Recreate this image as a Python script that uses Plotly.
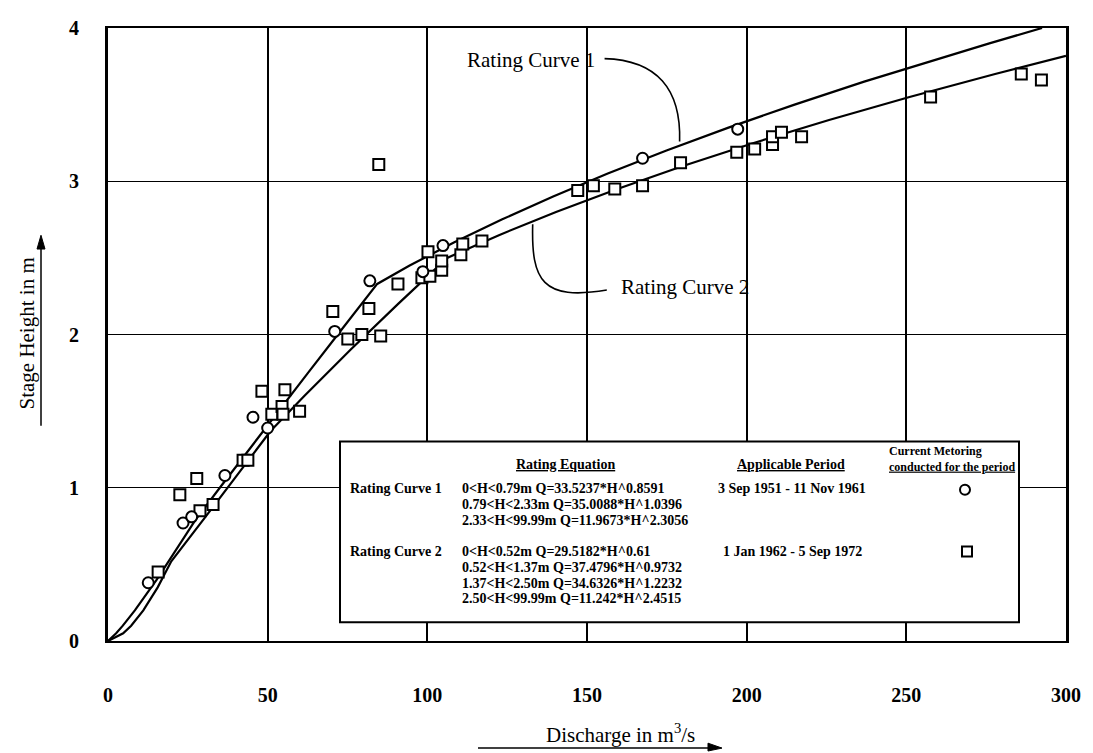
import plotly.graph_objects as go

# ---------------- data ----------------
# Rating curve 1 (3 Sep 1951 - 11 Nov 1961): discharge Q (m3/s) vs stage H (m)
curve1_Q = [0, 2.56, 4.64, 8.41, 15.26, 21.62, 27.4, 35.01, 44.15, 53.36, 62.63, 71.96,
            84.3, 94.46, 108.3, 123.3, 139.4, 156.5, 174.9, 194.3, 215.0, 236.8, 259.9, 276.0, 292.5]
curve1_H = [0, 0.05, 0.1, 0.2, 0.4, 0.6, 0.79, 1.0, 1.25, 1.5, 1.75, 2.0,
            2.33, 2.45, 2.6, 2.75, 2.9, 3.05, 3.2, 3.35, 3.5, 3.65, 3.8, 3.9, 4.0]

# Rating curve 2 (1 Jan 1962 - 5 Sep 1972)
curve2_Q = [0, 4.75, 7.25, 11.06, 15.56, 19.82, 30.16, 41.12, 50.91, 61.54, 75.94, 90.86,
            106.2, 122.6, 140.3, 159.5, 180.05, 202.2, 225.8, 251.0, 277.8, 300.0]
curve2_H = [0, 0.05, 0.1, 0.2, 0.35, 0.52, 0.8, 1.1, 1.37, 1.6, 1.9, 2.2,
            2.5, 2.65, 2.8, 2.95, 3.1, 3.25, 3.4, 3.55, 3.7, 3.818]

# Current metering, period 1 (circles)
meter1_Q = [12.6, 23.5, 26.2, 36.6, 45.4, 50.0, 71.0, 82.0, 98.6, 104.9, 167.4, 197.2]
meter1_H = [0.38, 0.77, 0.81, 1.08, 1.46, 1.39, 2.02, 2.35, 2.41, 2.58, 3.15, 3.34]

# Current metering, period 2 (squares)
meter2_Q = [15.7, 22.5, 27.8, 28.8, 32.9, 42.3, 43.8, 48.2, 51.3, 54.5, 54.8, 55.4, 60.0,
            70.4, 75.1, 79.5, 81.7, 84.8, 85.4, 90.8, 98.3, 100.2, 100.8, 104.5, 104.5,
            110.5, 111.1, 117.1, 147.1, 152.0, 158.7, 167.4, 179.3, 196.9, 202.5, 208.1,
            208.1, 210.9, 217.2, 257.6, 286.0, 292.3]
meter2_H = [0.45, 0.955, 1.06, 0.85, 0.89, 1.18, 1.18, 1.63, 1.48, 1.53, 1.48, 1.64, 1.5,
            2.15, 1.97, 2.0, 2.17, 3.11, 1.99, 2.33, 2.37, 2.54, 2.38, 2.42, 2.48,
            2.52, 2.59, 2.61, 2.94, 2.97, 2.95, 2.97, 3.12, 3.19, 3.21, 3.24,
            3.29, 3.32, 3.29, 3.55, 3.70, 3.66]

x_ticks = [0, 50, 100, 150, 200, 250, 300]
y_ticks = [0, 1, 2, 3, 4]

legend_rows_1 = ["0&lt;H&lt;0.79m Q=33.5237*H^0.8591",
                 "0.79&lt;H&lt;2.33m Q=35.0088*H^1.0396",
                 "2.33&lt;H&lt;99.99m Q=11.9673*H^2.3056"]
legend_rows_2 = ["0&lt;H&lt;0.52m Q=29.5182*H^0.61",
                 "0.52&lt;H&lt;1.37m Q=37.4796*H^0.9732",
                 "1.37&lt;H&lt;2.50m Q=34.6326*H^1.2232",
                 "2.50&lt;H&lt;99.99m Q=11.242*H^2.4515"]
period_1 = "3 Sep 1951 - 11 Nov 1961"
period_2 = "1 Jan 1962 - 5 Sep 1972"

# ---------------- layout helpers ----------------
OFF = 8                                   # page body margin of the html page
W, H = 1093 - OFF, 753 - OFF
L, R, T, B = 108, 1066, 17, 641          # plot area in screenshot pixels
FONT = "Liberation Serif"


def px_x(px):
    return (px - L) / (R - L)


def px_y(py):
    return (B - py) / (B - T)


def note(px, py, text, font, **kw):
    d = dict(x=px_x(px), y=px_y(py), xref="paper", yref="paper", text=text,
             showarrow=False, font=font, xanchor="center", yanchor="middle")
    d.update(kw)
    return d


def paper_path(points):
    return "M " + " L ".join(f"{px_x(a):.5f},{px_y(b):.5f}" for a, b in points) + " Z"


fig = go.Figure()

fig.add_trace(go.Scatter(x=curve1_Q, y=curve1_H, mode="lines",
                         line=dict(color="black", width=2.2), hoverinfo="skip"))
fig.add_trace(go.Scatter(x=curve2_Q, y=curve2_H, mode="lines",
                         line=dict(color="black", width=2.2), hoverinfo="skip"))
fig.add_trace(go.Scatter(x=meter2_Q, y=meter2_H, mode="markers",
                         marker=dict(symbol="square", size=11, color="white",
                                     line=dict(color="black", width=2))))
fig.add_trace(go.Scatter(x=meter1_Q, y=meter1_H, mode="markers",
                         marker=dict(symbol="circle", size=11, color="white",
                                     line=dict(color="black", width=2))))

shapes = []
annotations = []

# legend table box (white, hides grid)
shapes.append(dict(type="rect", xref="paper", yref="paper",
                   x0=px_x(340), x1=px_x(1019), y0=px_y(622), y1=px_y(438),
                   fillcolor="white", line=dict(color="black", width=2), layer="above"))

# leader lines of the curve labels
shapes.append(dict(type="path", xref="x", yref="y",
                   path="M 155.5,3.80 C 172,3.79 179.5,3.6 179,3.26",
                   line=dict(color="black", width=1.6)))
shapes.append(dict(type="path", xref="x", yref="y",
                   path="M 156.2,2.29 C 136,2.22 132.5,2.35 133,2.72",
                   line=dict(color="black", width=1.6)))

big = dict(family=FONT, size=21, color="black")
annotations.append(note(531, 50, "Rating Curve 1", big))
annotations.append(note(685, 281, "Rating Curve 2", big))

# legend table texts
lf = dict(family=FONT, size=14, color="black")
annotations.append(note(565, 461, "<b><u>Rating Equation</u></b>", lf))
annotations.append(note(791, 461, "<b><u>Applicable Period</u></b>", lf))
annotations.append(note(952, 456, "<b>Current Metoring<br><u>conducted for the period</u></b>",
                        dict(family=FONT, size=12, color="black"), align="left"))
row_y1 = [486, 502, 518]
row_y2 = [550, 566, 582, 598]
annotations.append(note(348, row_y1[0], "<b>Rating Curve 1</b>", lf, xanchor="left"))
annotations.append(note(348, row_y2[0], "<b>Rating Curve 2</b>", lf, xanchor="left"))
for t, yy in zip(legend_rows_1, row_y1):
    annotations.append(note(460, yy, "<b>" + t + "</b>", lf, xanchor="left"))
for t, yy in zip(legend_rows_2, row_y2):
    annotations.append(note(460, yy, "<b>" + t + "</b>", lf, xanchor="left"))
annotations.append(note(792, row_y1[0], "<b>" + period_1 + "</b>", lf))
annotations.append(note(792, row_y2[0], "<b>" + period_2 + "</b>", lf))

# legend symbols
shapes.append(dict(type="circle", xref="paper", yref="paper", xsizemode="pixel", ysizemode="pixel",
                   xanchor=px_x(965), yanchor=px_y(487), x0=-5, x1=5, y0=-5, y1=5,
                   line=dict(color="black", width=2), fillcolor="white", layer="above"))
shapes.append(dict(type="rect", xref="paper", yref="paper", xsizemode="pixel", ysizemode="pixel",
                   xanchor=px_x(967), yanchor=px_y(550), x0=-5, x1=5, y0=-5, y1=5,
                   line=dict(color="black", width=2), fillcolor="white", layer="above"))

# axis titles with underline arrows
annotations.append(note(620, 735, "Discharge in m<sup>3</sup>/s", big))
shapes.append(dict(type="line", xref="paper", yref="paper",
                   x0=px_x(478), x1=px_x(716), y0=px_y(750), y1=px_y(750),
                   line=dict(color="black", width=1.5)))
shapes.append(dict(type="path", xref="paper", yref="paper",
                   path=paper_path([(722, 750), (708, 745), (708, 753)]),
                   fillcolor="black", line=dict(color="black", width=1)))
annotations.append(note(27, 328, "Stage Height in m", big, textangle=-90))
shapes.append(dict(type="line", xref="paper", yref="paper",
                   x0=px_x(41), x1=px_x(41), y0=px_y(422), y1=px_y(234),
                   line=dict(color="black", width=1.5)))
shapes.append(dict(type="path", xref="paper", yref="paper",
                   path=paper_path([(41, 228), (37, 242), (45, 242)]),
                   fillcolor="black", line=dict(color="black", width=1)))

fig.update_layout(
    width=W, height=H,
    margin=dict(l=L - OFF, r=W - (R - OFF), t=T - OFF, b=H - (B - OFF)),
    paper_bgcolor="white", plot_bgcolor="white",
    showlegend=False,
    shapes=shapes, annotations=annotations,
    font=dict(family=FONT, color="black"),
)
fig.update_xaxes(range=[0, 300], tickvals=x_ticks, ticktext=[f"<b>{v}</b>" for v in x_ticks],
                 showgrid=True, gridcolor="black", gridwidth=2,
                 showline=True, linecolor="black", linewidth=2, mirror=True,
                 zeroline=False, ticks="", ticklabelstandoff=35,
                 tickfont=dict(family=FONT, size=20, color="black"))
fig.update_yaxes(range=[0, 4], tickvals=y_ticks, ticktext=[f"<b>{v}</b>" for v in y_ticks],
                 showgrid=True, gridcolor="black", gridwidth=1.3,
                 showline=True, linecolor="black", linewidth=3, mirror=True,
                 zeroline=False, ticks="", ticklabelstandoff=22,
                 tickfont=dict(family=FONT, size=20, color="black"))

fig.write_html("out.html")
